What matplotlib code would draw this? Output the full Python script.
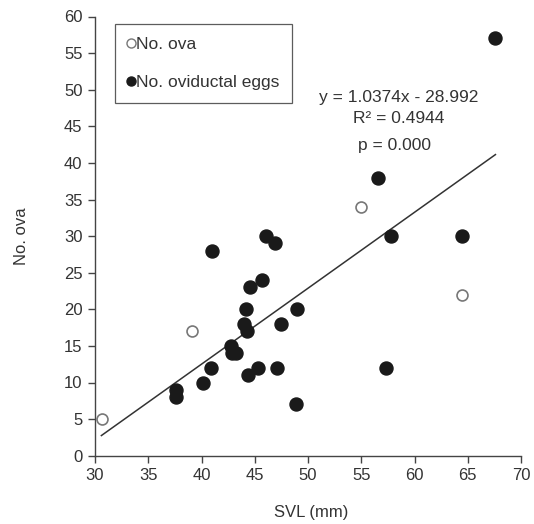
import matplotlib
matplotlib.use("Agg")
import matplotlib.pyplot as plt
from matplotlib.lines import Line2D
import numpy as np

plt.rcParams['font.family'] = ['Liberation Sans', 'DejaVu Sans']

ova_svl = [30.7, 39.1, 55.0, 64.5]
ova_n = [5, 17, 34, 22]

eggs_svl = [41.0, 46.1, 46.9, 45.7, 44.6, 44.2, 49.0, 47.5, 44.0, 44.3, 42.8, 42.9, 43.2,
            40.9, 45.3, 47.1, 44.4, 40.1, 37.6, 37.6, 48.9, 67.6, 56.6, 57.8, 64.5, 57.3]
eggs_n = [28, 30, 29, 24, 23, 20, 20, 18, 18, 17, 15, 14, 14,
          12, 12, 12, 11, 10, 9, 8, 7, 57, 38, 30, 30, 12]

slope, intercept = 1.0374, -28.992
fit_x = [30.6, 67.6]

fig = plt.figure(figsize=(5.34, 5.24), dpi=100)
ax = fig.add_axes([95/534, 1-455.7/524, (521-95)/534, (455.7-16.5)/524])

fx = np.array(fit_x)
ax.plot(fx, slope*fx + intercept, color='#333333', lw=1.1, zorder=1)
ax.scatter(eggs_svl, eggs_n, s=88, color='#1a1a1a', edgecolor='#1a1a1a', zorder=3)
ax.scatter(ova_svl, ova_n, s=62, facecolor='white', edgecolor='#777777', lw=1.2, zorder=3)

ax.set_xlim(30, 70)
ax.set_ylim(0, 60)
ax.set_xticks(range(30, 71, 5))
ax.set_yticks(range(0, 61, 5))
for s in ['top', 'right']:
    ax.spines[s].set_visible(False)
for s in ['left', 'bottom']:
    ax.spines[s].set_color('#444444')
    ax.spines[s].set_linewidth(1.0)
ax.tick_params(direction='out', length=5, width=1, color='#444444', labelsize=12,
               labelcolor='#333333', pad=4)

ax.set_xlabel('SVL (mm)', fontsize=12, color='#333333')
ax.set_ylabel('No. ova', fontsize=12, color='#333333')
ax.xaxis.set_label_coords(0.507, -0.112)
ax.yaxis.set_label_coords(-0.155, 0.5)

ax.text(58.5, 49.0, 'y = 1.0374x - 28.992', fontsize=12.5, color='#333333', ha='center', va='center')
ax.text(58.5, 46.1, 'R² = 0.4944', fontsize=12.5, color='#333333', ha='center', va='center')
ax.text(58.1, 42.4, 'p = 0.000', fontsize=12.5, color='#333333', ha='center', va='center')

handles = [Line2D([], [], marker='o', ls='none', markersize=6.5, markerfacecolor='white', markeredgecolor='#777777'),
           Line2D([], [], marker='o', ls='none', markersize=6.5, markerfacecolor='#1a1a1a', markeredgecolor='#1a1a1a')]
leg = ax.legend(handles, ['No. ova', 'No. oviductal eggs'], loc='upper left',
                bbox_to_anchor=(115/534, 1-24/524), bbox_transform=fig.transFigure,
                fontsize=12.5, frameon=True, fancybox=False, handlelength=0.4,
                handletextpad=0.1, labelspacing=1.35, borderpad=0.72, borderaxespad=0)
leg.get_frame().set_edgecolor('#333333')
leg.get_frame().set_linewidth(0.9)
for t in leg.get_texts():
    t.set_color('#333333')

fig.savefig('out.png', dpi=100)
